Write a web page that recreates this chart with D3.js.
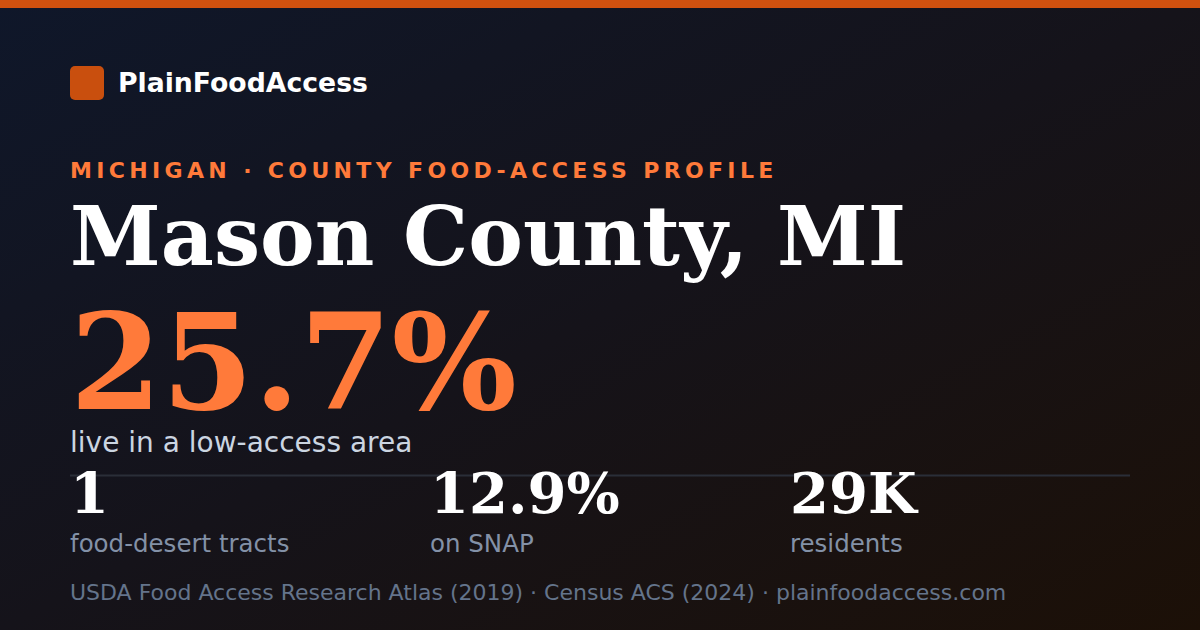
<!DOCTYPE html>
<html><head><meta charset="utf-8">
<script src="https://cdn.jsdelivr.net/npm/d3@7"></script>
<style>html,body{margin:0;padding:0;background:#111;}svg{display:block;}</style>
</head><body>
<script>
const brand = "PlainFoodAccess";
const kicker = "MICHIGAN · COUNTY FOOD-ACCESS PROFILE";
const title = "Mason County, MI";
const headlineValue = "25.7%";
const headlineLabel = "live in a low-access area";
const statValues = ["1", "12.9%", "29K"];
const statLabels = ["food-desert tracts", "on SNAP", "residents"];
const footer = "USDA Food Access Research Atlas (2019) · Census ACS (2024) · plainfoodaccess.com";

const W = 1200, H = 630;
const svg = d3.select("body").append("svg").attr("width", W).attr("height", H);
const defs = svg.append("defs");
const g = defs.append("linearGradient").attr("id","bg").attr("x1","0").attr("y1","0").attr("x2","1").attr("y2","1");
g.append("stop").attr("offset","0%").attr("stop-color","#0f172a");
g.append("stop").attr("offset","50%").attr("stop-color","#15131a");
g.append("stop").attr("offset","100%").attr("stop-color","#1c1007");
svg.append("rect").attr("width",W).attr("height",H).attr("fill","url(#bg)");
svg.append("rect").attr("width",W).attr("height",8).attr("fill","#d0510f");

svg.append("rect").attr("x",70).attr("y",66).attr("width",34).attr("height",34).attr("rx",5).attr("fill","#c94f0e");
svg.append("text").attr("x",118).attr("y",92).attr("font-family","DejaVu Sans").attr("font-weight","bold")
  .attr("font-size",26.7).attr("fill","#ffffff").text(brand);

svg.append("text").attr("x",70).attr("y",178).attr("font-family","DejaVu Sans").attr("font-weight","bold")
  .attr("font-size",22).attr("letter-spacing",4.35).attr("fill","#ff7a3a").text(kicker);

svg.append("text").attr("x",70).attr("y",265).attr("font-family","DejaVu Serif").attr("font-weight","bold")
  .attr("font-size",82).attr("fill","#ffffff").text(title);

svg.append("text").attr("x",70).attr("y",409).attr("font-family","DejaVu Serif").attr("font-weight","bold")
  .attr("font-size",132).attr("fill","#ff7a3a").text(headlineValue);

svg.append("text").attr("x",70).attr("y",452).attr("font-family","DejaVu Sans")
  .attr("font-size",28).attr("fill","#cbd5e1").text(headlineLabel);

svg.append("line").attr("x1",70).attr("x2",1130).attr("y1",475.5).attr("y2",475.5)
  .attr("stroke","#2a2e38").attr("stroke-width",2);

const x = d3.scalePoint().domain(d3.range(statValues.length)).range([70, 790]);
const cols = svg.selectAll("g.stat").data(statValues).join("g").attr("class","stat")
  .attr("transform",(d,i)=>`translate(${x(i)},0)`);
cols.append("text").attr("y",513).attr("font-family","DejaVu Serif").attr("font-weight","bold")
  .attr("font-size",56).attr("fill","#ffffff").text(d=>d);
cols.append("text").attr("y",552).attr("font-family","DejaVu Sans")
  .attr("font-size",24.5).attr("fill","#8391a7").text((d,i)=>statLabels[i]);

svg.append("text").attr("x",70).attr("y",600).attr("font-family","DejaVu Sans")
  .attr("font-size",22).attr("fill","#64748b").text(footer);
</script>
</body></html>
